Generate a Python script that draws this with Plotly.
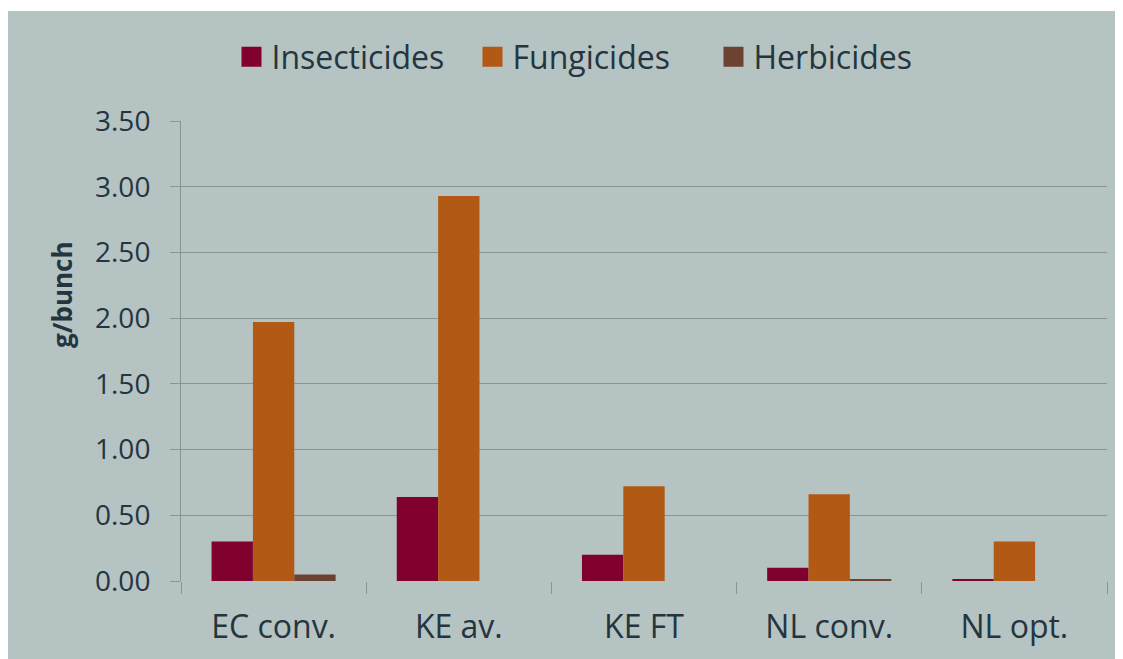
import plotly.graph_objects as go

categories = ["EC conv.", "KE av.", "KE FT", "NL conv.", "NL opt."]
insecticides = [0.30, 0.64, 0.20, 0.10, 0.01]
fungicides = [1.97, 2.93, 0.72, 0.66, 0.30]
herbicides = [0.05, 0.0, 0.0, 0.01, 0.0]
y_ticks = [0, 0.5, 1.0, 1.5, 2.0, 2.5, 3.0, 3.5]
y_tick_labels = ["0.00", "0.50", "1.00", "1.50", "2.00", "2.50", "3.00", "3.50"]

series = [
    ("Insecticides", insecticides, "#800030"),
    ("Fungicides", fungicides, "#b15915"),
    ("Herbicides", herbicides, "#6e4232"),
]

BG = "#b5c3c2"
GRID = "#8c9393"
TXT = "#253540"
FONT = "Open Sans"

W, H = 1123, 659
ML, MR, MT, MB = 173, 24, 113, 86
PW, PH = W - ML - MR, H - MT - MB


def px_x(x):
    return (x - ML) / PW


def px_y(y):
    return (MT + PH - y) / PH


fig = go.Figure()
for name, vals, col in series:
    fig.add_trace(go.Bar(x=categories, y=vals, name=name, marker_color=col,
                         marker_line_width=0, showlegend=False))
for name, vals, col in series:
    fig.add_trace(go.Scatter(x=[None], y=[None], mode="markers", name=name,
                             marker=dict(symbol="square", size=16, color=col,
                                         line=dict(width=4, color=col))))

# thin white strip at the very top
fig.add_shape(type="rect", xref="paper", yref="paper", layer="below",
              x0=px_x(0), x1=px_x(W), y0=px_y(3), y1=px_y(0),
              fillcolor="white", line_width=0)

fig.add_annotation(text="<b>g/bunch</b>", xref="paper", yref="paper",
                   x=px_x(54), y=px_y(287), xanchor="center", yanchor="middle",
                   textangle=-90, showarrow=False,
                   font=dict(family=FONT, size=26, color=TXT))

fig.update_layout(
    width=W, height=H,
    margin=dict(l=ML, r=MR, t=MT, b=MB, pad=0),
    paper_bgcolor=BG, plot_bgcolor="rgba(0,0,0,0)",
    barmode="group", bargap=0.33, bargroupgap=0,
    font=dict(family=FONT, color=TXT),
    legend=dict(orientation="h", x=px_x(585), xanchor="center",
                y=px_y(49), yanchor="middle",
                font=dict(family=FONT, size=32, color=TXT),
                bgcolor="rgba(0,0,0,0)", entrywidth=196),
    xaxis=dict(type="category", tickson="boundaries", ticks="outside", ticklen=12,
               tickcolor=GRID, tickwidth=1, showline=False, showgrid=False,
               tickfont=dict(family=FONT, size=32, color=TXT), ticklabelstandoff=24),
    yaxis=dict(range=[0, 3.5], tickvals=y_ticks, ticktext=y_tick_labels,
               ticks="outside", ticklen=10, tickcolor=GRID, tickwidth=1,
               showline=True, linecolor=GRID, linewidth=1,
               showgrid=True, gridcolor=GRID, gridwidth=1, zeroline=False,
               tickfont=dict(family=FONT, size=28, color=TXT), ticklabelstandoff=14),
)
fig.write_html("out.html")
